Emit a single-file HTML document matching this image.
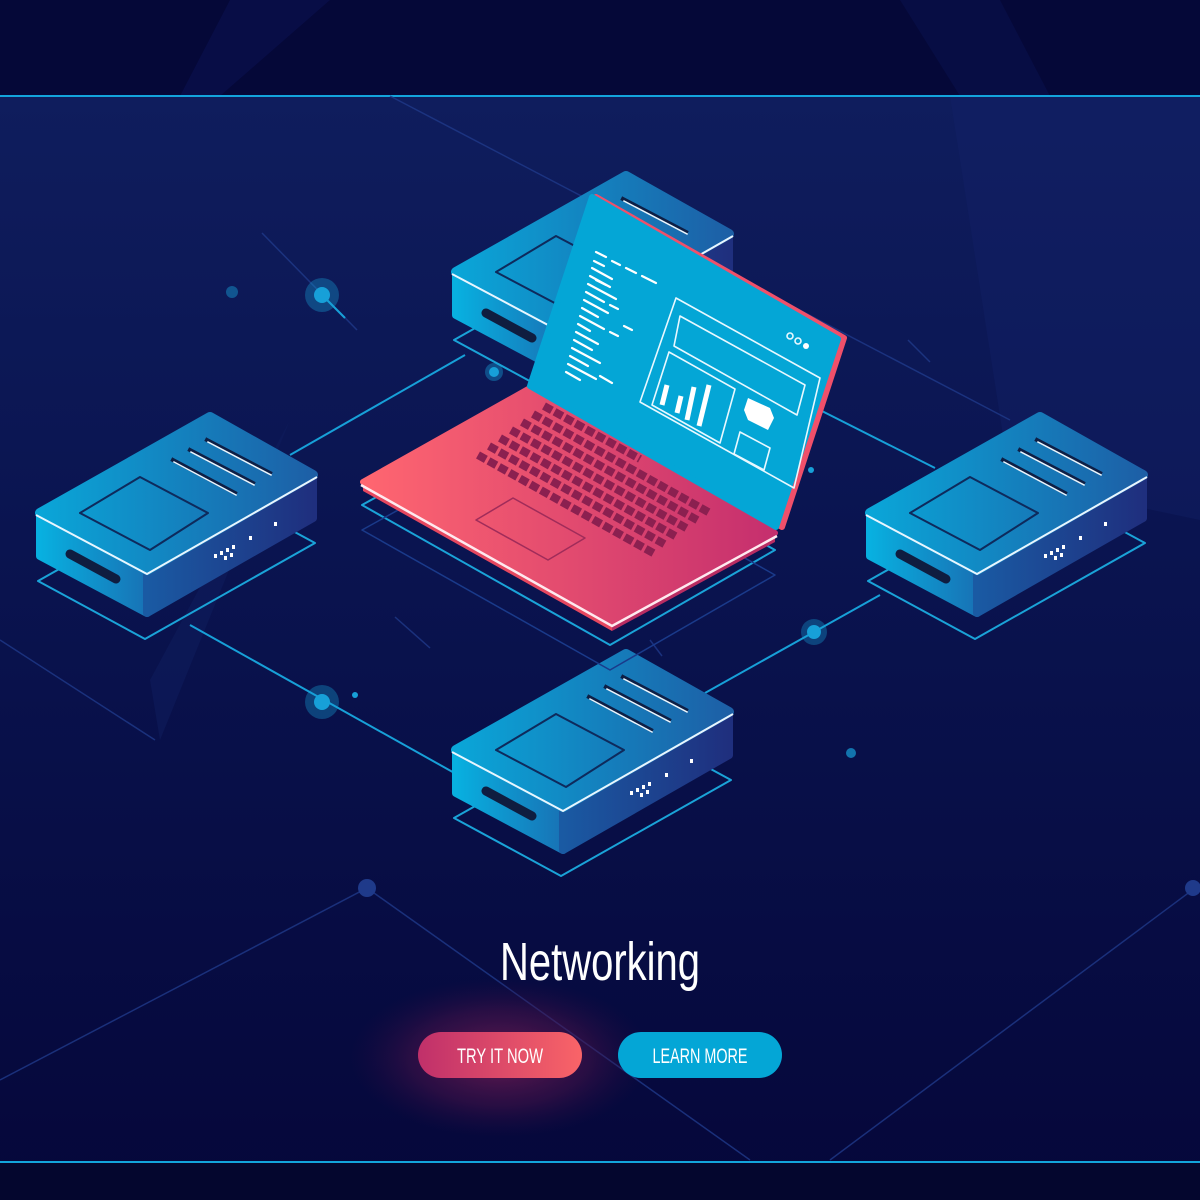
<!DOCTYPE html>
<html><head><meta charset="utf-8"><style>
html,body{margin:0;padding:0;background:#070b3a;}
svg{display:block}
</style></head><body>
<svg width="1200" height="1200" viewBox="0 0 1200 1200" xmlns="http://www.w3.org/2000/svg">
<defs>
 <linearGradient id="bg" x1="0" y1="0" x2="0" y2="1">
  <stop offset="0" stop-color="#101f60"/><stop offset="0.45" stop-color="#0a1450"/><stop offset="1" stop-color="#05073a"/>
 </linearGradient>
 <linearGradient id="topF" x1="0" y1="0" x2="1" y2="0">
  <stop offset="0" stop-color="#0aa6d8"/><stop offset="1" stop-color="#1d5fa6"/>
 </linearGradient>
 <linearGradient id="leftF" x1="0" y1="0" x2="1" y2="0">
  <stop offset="0" stop-color="#08b0e0"/><stop offset="1" stop-color="#1872b5"/>
 </linearGradient>
 <linearGradient id="rightF" x1="0" y1="0" x2="1" y2="0">
  <stop offset="0" stop-color="#1a5aa3"/><stop offset="1" stop-color="#1f2f7e"/>
 </linearGradient>
 <linearGradient id="lapBase" x1="0" y1="0" x2="1" y2="0">
  <stop offset="0" stop-color="#ff6670"/><stop offset="1" stop-color="#c52f6e"/>
 </linearGradient>
 <linearGradient id="btnR" x1="0" y1="0" x2="1" y2="0">
  <stop offset="0" stop-color="#c0306a"/><stop offset="1" stop-color="#f96468"/>
 </linearGradient>
 <radialGradient id="glow" cx="0.5" cy="0.5" r="0.5">
  <stop offset="0" stop-color="#7a1d55" stop-opacity="0.85"/><stop offset="0.6" stop-color="#4a1248" stop-opacity="0.5"/><stop offset="1" stop-color="#2a0a40" stop-opacity="0"/>
 </radialGradient>
 <g id="server">
  <polygon points="-2,68 168,-28 275,30 105,126" fill="none" stroke="#1aa3d8" stroke-width="2" stroke-linejoin="round"/>
  <polygon points="0,0 107,57 107,100 0,43" fill="url(#leftF)" stroke="url(#leftF)" stroke-width="8" stroke-linejoin="round"/>
  <polygon points="107,57 273,-38 273,5 107,100" fill="url(#rightF)" stroke="url(#rightF)" stroke-width="8" stroke-linejoin="round"/>
  <polygon points="0,0 170,-96 273,-38 107,57" fill="url(#topF)" stroke="url(#topF)" stroke-width="10" stroke-linejoin="round"/>
  <polyline points="-4,2 107,61 277,-36" fill="none" stroke="#e8f6ff" stroke-width="2"/>
  <polygon points="40,0 100,-36 168,0 110,37" fill="none" stroke="#0e2a5c" stroke-width="2" stroke-linejoin="round"/>
  <g stroke-width="4" stroke-linecap="square">
   <line x1="133" y1="-53" x2="195" y2="-20" stroke="#0e1f45"/>
   <line x1="150" y1="-63" x2="213" y2="-30" stroke="#0e1f45"/>
   <line x1="167" y1="-73" x2="230" y2="-40" stroke="#0e1f45"/>
   <line x1="134" y1="-51" x2="196" y2="-18" stroke="#e8f6ff" stroke-width="1.5"/>
   <line x1="151" y1="-61" x2="214" y2="-28" stroke="#e8f6ff" stroke-width="1.5"/>
   <line x1="168" y1="-71" x2="231" y2="-38" stroke="#e8f6ff" stroke-width="1.5"/>
  </g>
  <line x1="30" y1="41" x2="76" y2="66" stroke="#0f1d40" stroke-width="9" stroke-linecap="round"/>
  <g fill="#ffffff">
   <rect x="174" y="41" width="3" height="4"/><rect x="180" y="38" width="3" height="4"/><rect x="186" y="35" width="3" height="4"/><rect x="192" y="32" width="3" height="4"/>
   <rect x="184" y="43" width="3" height="4"/><rect x="190" y="40" width="3" height="4"/>
   <rect x="209" y="23" width="3" height="4"/><rect x="234" y="9" width="3" height="4"/>
  </g>
 </g>
</defs>
<rect width="1200" height="1200" fill="url(#bg)"/>
<rect width="1200" height="96" fill="#050838"/>
<polygon points="230,0 330,0 220,96 180,96" fill="#0a1150" opacity="0.6"/>
<polygon points="900,0 1000,0 1050,96 960,96" fill="#0a1150" opacity="0.5"/>
<polygon points="950,96 1200,96 1200,520 1010,480" fill="#13226a" opacity="0.35"/>
<polygon points="150,680 290,420 160,740" fill="#0f1c5c" opacity="0.6"/>
<rect y="1162" width="1200" height="38" fill="#04062e"/>
<line x1="0" y1="96" x2="1200" y2="96" stroke="#13a4dc" stroke-width="2"/>
<line x1="0" y1="1162" x2="1200" y2="1162" stroke="#13a4dc" stroke-width="2"/>
<!-- faint background lines -->
<g stroke="#1f3a8a" stroke-width="1.5" fill="none" opacity="0.8">
 <line x1="390" y1="96" x2="1010" y2="420"/>
 <line x1="0" y1="640" x2="155" y2="740"/>
 <polyline points="0,1080 367,888 750,1160"/>
 <polyline points="830,1160 1195,888"/>
 <line x1="262" y1="233" x2="357" y2="330"/>
 <line x1="395" y1="617" x2="430" y2="648"/>
 <line x1="908" y1="340" x2="930" y2="362"/>
 <line x1="650" y1="640" x2="662" y2="656"/>
</g>
<circle cx="367" cy="888" r="9" fill="#1f3a8a"/>
<circle cx="1193" cy="888" r="8" fill="#1f3a8a"/>
<!-- connection lines -->
<g stroke="#17a0d8" stroke-width="2" fill="none">
 <line x1="290" y1="455" x2="465" y2="355"/>
 <line x1="190" y1="625" x2="458" y2="775"/>
 <line x1="705" y1="693" x2="880" y2="595"/>
 <line x1="810" y1="405" x2="935" y2="468"/>
 <line x1="322" y1="295" x2="345" y2="318"/>
</g>
<g fill="#17a0d8">
 <circle cx="322" cy="295" r="17" opacity="0.35"/><circle cx="322" cy="295" r="8"/>
 <circle cx="322" cy="702" r="17" opacity="0.35"/><circle cx="322" cy="702" r="8"/>
 <circle cx="814" cy="632" r="13" opacity="0.35"/><circle cx="814" cy="632" r="7"/>
 <circle cx="494" cy="372" r="9" opacity="0.4"/><circle cx="494" cy="372" r="5"/>
 <circle cx="232" cy="292" r="6" opacity="0.45"/>
 <circle cx="851" cy="753" r="5" opacity="0.7"/>
 <circle cx="355" cy="695" r="3"/>
 <circle cx="811" cy="470" r="3"/>
</g>
<!-- servers -->
<use href="#server" x="456" y="272"/>
<use href="#server" x="40" y="513"/>
<use href="#server" x="870" y="513"/>
<use href="#server" x="456" y="750"/>
<!-- laptop plate -->
<polygon points="362,505 530,412 775,550 610,645" fill="none" stroke="#1aa3d8" stroke-width="2" stroke-linejoin="round"/>
<polygon points="362,530 530,437 775,575 610,670" fill="none" stroke="#1a3a8a" stroke-width="1.5" stroke-linejoin="round"/>
<!-- laptop base -->
<polygon points="363,482 612,622 612,631 363,491" fill="#e6475f"/>
<polygon points="612,622 775,533 775,542 612,631" fill="#b92c62"/>
<polygon points="363,482 530,388 775,533 612,622" fill="url(#lapBase)" stroke="url(#lapBase)" stroke-width="6" stroke-linejoin="round"/>
<polyline points="361,485 612,626 777,536" fill="none" stroke="#ffe9ef" stroke-width="2.5"/>
<!-- keyboard -->
<g stroke="#8b2050" stroke-width="8" stroke-dasharray="9 3" fill="none">
 <line x1="478" y1="455" x2="655" y2="554"/>
 <line x1="489" y1="446" x2="666" y2="545"/>
 <line x1="500" y1="438" x2="677" y2="537"/>
 <line x1="511" y1="430" x2="688" y2="529"/>
 <line x1="522" y1="422" x2="699" y2="521"/>
 <line x1="533" y1="414" x2="710" y2="513"/>
 <line x1="544" y1="406" x2="640" y2="459"/>
</g>
<polygon points="476,520 513,498 585,538 548,560" fill="none" stroke="#a02c5a" stroke-width="1.5" stroke-linejoin="round"/>
<!-- screen -->
<polygon points="534,388 596,197 844,338 782,527" fill="#f0506a" stroke="#f0506a" stroke-width="6" stroke-linejoin="round"/>
<polygon points="530,386 592,197 838,339 776,527" fill="#04a6d6" stroke="#04a6d6" stroke-width="6" stroke-linejoin="round"/>
<!-- code lines -->
<g stroke="#ffffff" stroke-width="2.2" stroke-linecap="round">
 <line x1="596" y1="252" x2="606" y2="257"/><line x1="612" y1="261" x2="620" y2="265"/><line x1="626" y1="268" x2="636" y2="273"/><line x1="642" y1="276" x2="656" y2="283"/>
 <line x1="594" y1="261" x2="604" y2="266"/><line x1="592" y1="268" x2="612" y2="279"/><line x1="590" y1="276" x2="610" y2="287"/><line x1="588" y1="284" x2="616" y2="299"/>
 <line x1="586" y1="292" x2="604" y2="302"/><line x1="610" y1="305" x2="618" y2="309"/><line x1="584" y1="300" x2="608" y2="313"/><line x1="582" y1="308" x2="598" y2="317"/>
 <line x1="580" y1="316" x2="604" y2="329"/><line x1="610" y1="332" x2="618" y2="336"/><line x1="578" y1="324" x2="590" y2="331"/><line x1="576" y1="332" x2="598" y2="344"/>
 <line x1="574" y1="340" x2="592" y2="350"/><line x1="572" y1="348" x2="600" y2="363"/><line x1="570" y1="356" x2="588" y2="366"/><line x1="568" y1="364" x2="596" y2="379"/>
 <line x1="566" y1="372" x2="580" y2="380"/><line x1="600" y1="376" x2="612" y2="383"/><line x1="624" y1="326" x2="632" y2="330"/><line x1="596" y1="280" x2="606" y2="285"/>
</g>
<!-- window outline -->
<g fill="none" stroke="#e8f8ff" stroke-width="1.6" stroke-linejoin="round">
 <polygon points="676,298 820,378 794,488 640,402"/>
 <polygon points="680,316 805,385 797,415 674,346"/>
 <polygon points="669,352 735,389 720,443 652,405"/>
 <polygon points="740,432 770,448 764,470 734,454"/>
 <circle cx="790" cy="336" r="3"/><circle cx="798" cy="341" r="3"/>
</g>
<circle cx="806" cy="346" r="3" fill="#fff"/>
<polygon points="748,398 770,408 774,418 768,430 748,420 744,410" fill="#fff"/>
<g stroke="#fff" stroke-width="5">
 <line x1="667" y1="385" x2="662" y2="405"/><line x1="681" y1="396" x2="677" y2="413"/>
 <line x1="694" y1="387" x2="687" y2="420"/><line x1="709" y1="385" x2="699" y2="426"/>
</g>
<!-- text -->
<text x="600" y="980" text-anchor="middle" font-family="'Liberation Sans Narrow','Liberation Sans',sans-serif" font-size="54" fill="#ffffff" textLength="200" lengthAdjust="spacingAndGlyphs">Networking</text>
<ellipse cx="500" cy="1058" rx="150" ry="80" fill="url(#glow)"/>
<rect x="418" y="1032" width="164" height="46" rx="23" fill="url(#btnR)"/>
<rect x="618" y="1032" width="164" height="46" rx="23" fill="#04a6d6"/>
<text x="500" y="1063" text-anchor="middle" font-family="'Liberation Sans Narrow','Liberation Sans',sans-serif" font-size="21" fill="#fff" textLength="86" lengthAdjust="spacingAndGlyphs">TRY IT NOW</text>
<text x="700" y="1063" text-anchor="middle" font-family="'Liberation Sans Narrow','Liberation Sans',sans-serif" font-size="21" fill="#fff" textLength="95" lengthAdjust="spacingAndGlyphs">LEARN MORE</text>
</svg>
</body></html>
